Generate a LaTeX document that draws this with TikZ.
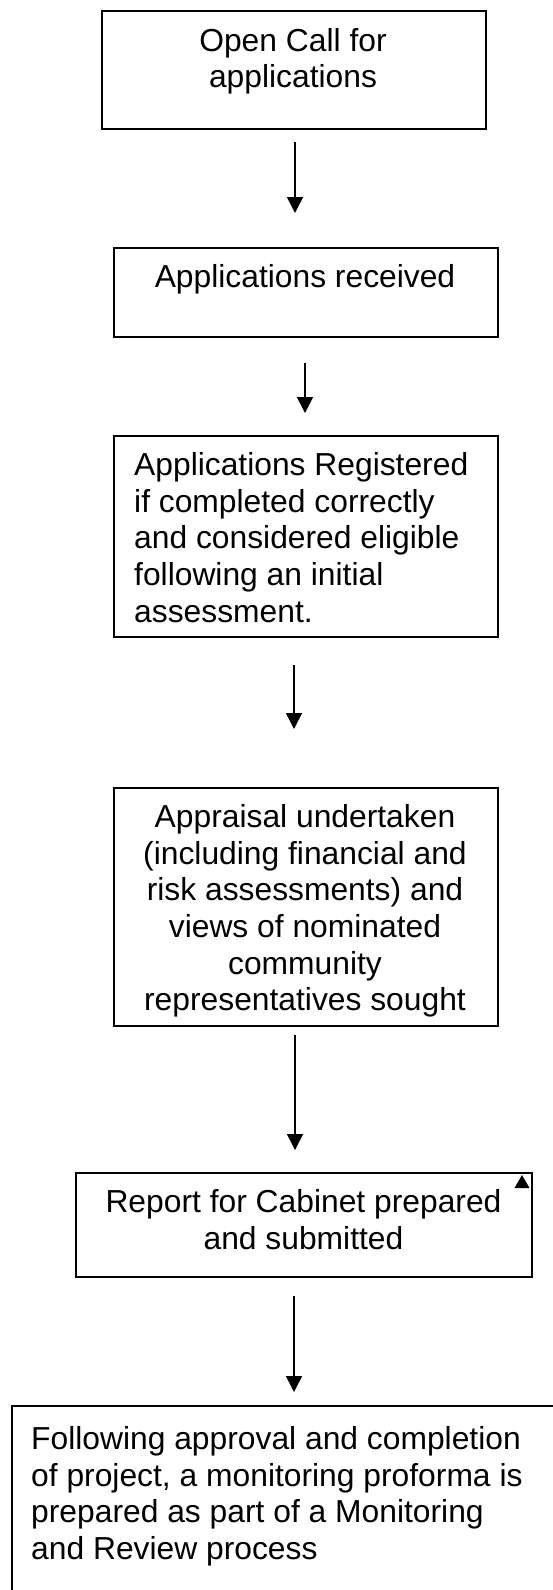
\documentclass[tikz,border=0pt]{standalone}
\usepackage{fontspec}
\setmainfont{Liberation Sans}
\usetikzlibrary{arrows.meta}
\begin{document}
\begin{tikzpicture}[x=1pt,y=-1pt,
  boxshape/.style={draw=black,line width=1.6pt,rectangle,inner sep=0pt},
  boxtext/.style={inner sep=0pt,font=\fontsize{31.8}{36.6}\selectfont},
  flow/.style={line width=1.5pt,-{Triangle[width=16pt,length=16pt]}}]
\useasboundingbox (0,0) rectangle (553,1590);
\clip (0,0) rectangle (553,1590);
\fill[white] (0,0) rectangle (553,1590);
% boxes
\node[boxshape,minimum width=384pt,minimum height=118pt,anchor=north west] (b1) at (101,10) {};
\node[boxshape,minimum width=384pt,minimum height=89pt,anchor=north west] (b2) at (113,247) {};
\node[boxshape,minimum width=384pt,minimum height=201pt,anchor=north west] (b3) at (113,435) {};
\node[boxshape,minimum width=384pt,minimum height=238pt,anchor=north west] (b4) at (113,787) {};
\node[boxshape,minimum width=456pt,minimum height=104pt,anchor=north west] (b5) at (75,1172) {};
\node[boxshape,minimum width=600pt,minimum height=260pt,anchor=north west] (b6) at (11,1405) {};
% texts
\node[boxtext,align=center,anchor=north] (t1) at (293,28) {Open Call for\\applications};
\node[boxtext,align=center,anchor=north] (t2) at (305,264.5) {Applications received};
\node[boxtext,align=left,anchor=north west] (t3) at (134,452.5) {Applications Registered\\if completed correctly\\and considered eligible\\following an initial\\assessment.};
\node[boxtext,align=center,anchor=north] (t4) at (305,804.5) {Appraisal undertaken\\(including financial and\\risk assessments) and\\views of nominated\\community\\representatives sought};
\node[boxtext,align=center,anchor=north] (t5) at (303.5,1189.5) {Report for Cabinet prepared\\and submitted};
\node[boxtext,align=left,anchor=north west] (t6) at (31,1426.5) {Following approval and completion\\of project, a monitoring proforma is\\prepared as part of a Monitoring\\and Review process};
% arrow ends
\coordinate (a1s) at (295,142); \coordinate (a1e) at (295,213);
\coordinate (a2s) at (305,363); \coordinate (a2e) at (305,413);
\coordinate (a3s) at (294,665); \coordinate (a3e) at (294,729);
\coordinate (a4s) at (295,1035); \coordinate (a4e) at (295,1150);
\coordinate (a5s) at (294,1296); \coordinate (a5e) at (294,1392);
\draw[flow] (a1s) -- (a1e);
\draw[flow] (a2s) -- (a2e);
\draw[flow] (a3s) -- (a3e);
\draw[flow] (a4s) -- (a4e);
\draw[flow] (a5s) -- (a5e);
% stray arrowhead in corner of box 5
\coordinate (tip) at (522,1175);
\fill[black] (tip) -- (529.5,1188) -- (514.5,1188) -- cycle;
\end{tikzpicture}
\end{document}
